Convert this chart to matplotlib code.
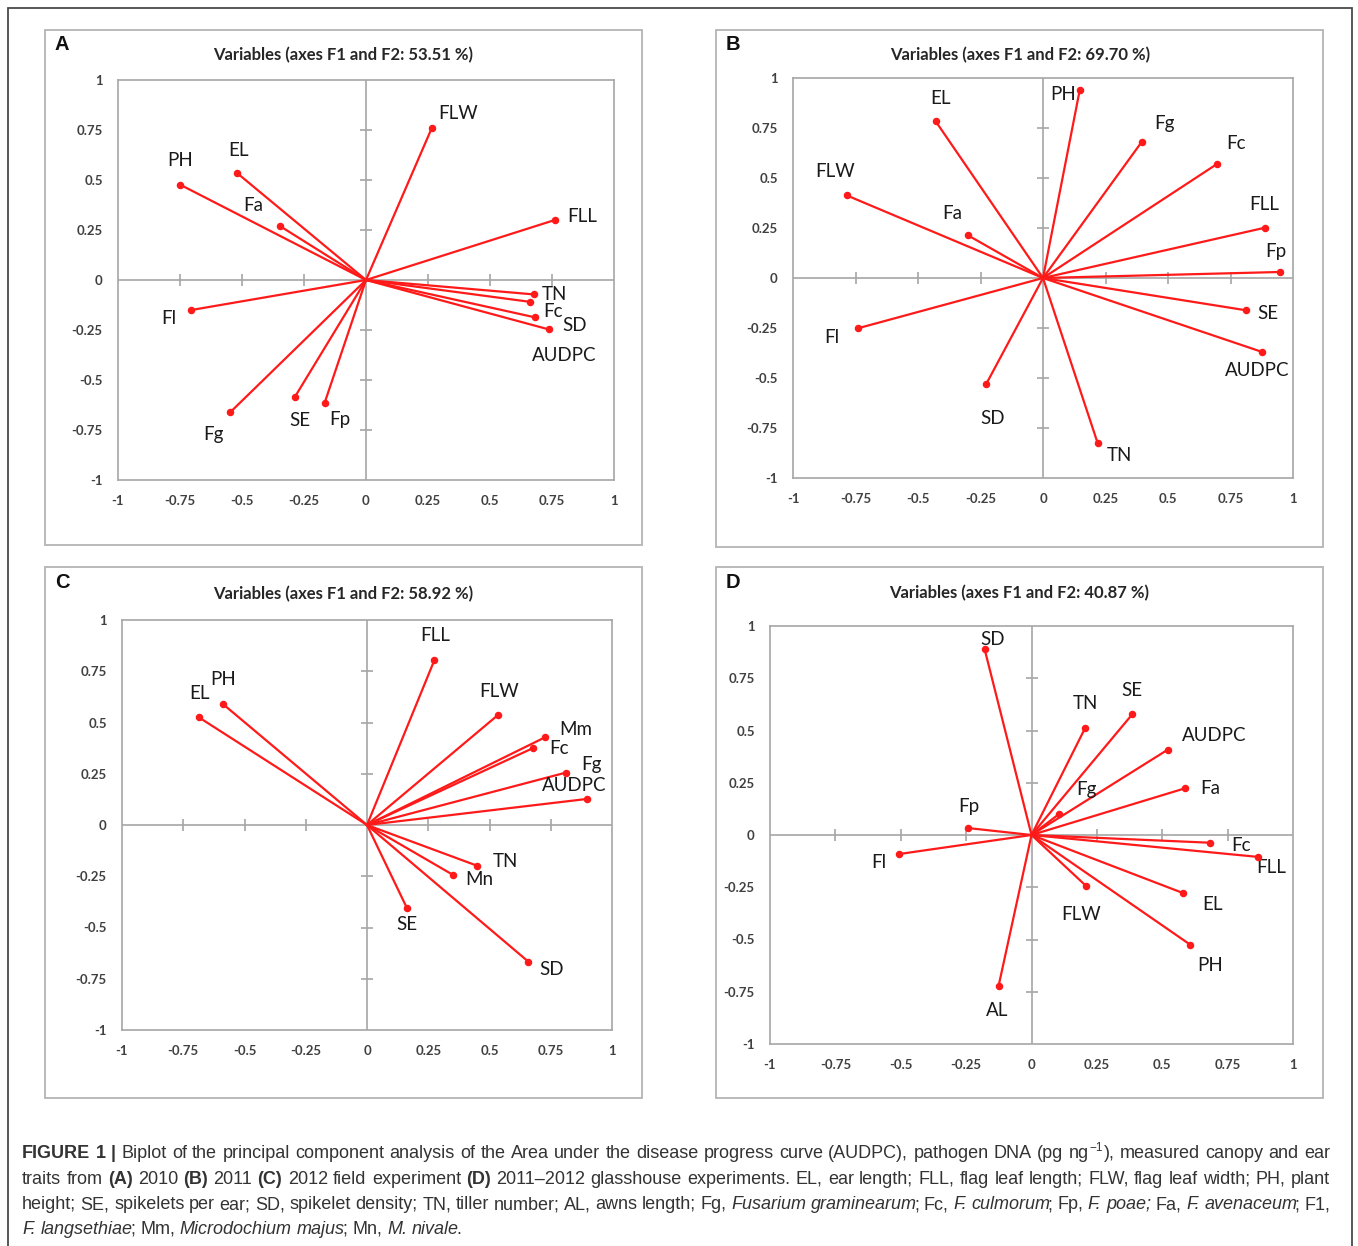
import matplotlib
matplotlib.use("Agg")
import matplotlib.pyplot as plt
from matplotlib.patches import Rectangle

W, H = 1358, 1246

# ---- data (F1, F2 loadings) ----
a_names = ["PH", "EL", "Fa", "FLW", "FLL", "TN", "Fc", "SD", "AUDPC", "Fl", "Fg", "SE", "Fp"]
a_f1 = [-0.75, -0.52, -0.346, 0.265, 0.764, 0.676, 0.660, 0.682, 0.737, -0.704, -0.548, -0.288, -0.167]
a_f2 = [0.477, 0.535, 0.269, 0.759, 0.301, -0.072, -0.109, -0.187, -0.247, -0.150, -0.662, -0.587, -0.615]

b_names = ["PH", "EL", "Fg", "Fc", "FLW", "Fa", "FLL", "Fp", "SE", "AUDPC", "Fl", "SD", "TN"]
b_f1 = [0.147, -0.429, 0.394, 0.696, -0.785, -0.301, 0.886, 0.946, 0.810, 0.877, -0.739, -0.228, 0.218]
b_f2 = [0.940, 0.783, 0.679, 0.570, 0.413, 0.214, 0.251, 0.030, -0.161, -0.370, -0.251, -0.532, -0.823]

c_names = ["EL", "PH", "FLL", "FLW", "Mm", "Fc", "Fg", "AUDPC", "TN", "Mn", "SE", "SD"]
c_f1 = [-0.686, -0.586, 0.275, 0.533, 0.727, 0.679, 0.813, 0.897, 0.448, 0.349, 0.163, 0.659]
c_f2 = [0.525, 0.588, 0.804, 0.535, 0.428, 0.376, 0.256, 0.127, -0.198, -0.242, -0.405, -0.667]

d_names = ["SD", "TN", "SE", "AUDPC", "Fa", "Fg", "Fp", "Fl", "Fc", "FLL", "FLW", "EL", "PH", "AL"]
d_f1 = [-0.179, 0.206, 0.385, 0.522, 0.586, 0.106, -0.241, -0.506, 0.683, 0.868, 0.209, 0.580, 0.606, -0.126]
d_f2 = [0.888, 0.514, 0.577, 0.409, 0.223, 0.101, 0.033, -0.091, -0.037, -0.105, -0.244, -0.278, -0.524, -0.723]

titles = ["Variables (axes F1 and F2: 53.51 %)", "Variables (axes F1 and F2: 69.70 %)",
          "Variables (axes F1 and F2: 58.92 %)", "Variables (axes F1 and F2: 40.87 %)"]
letters = ["A", "B", "C", "D"]

tick_vals = [-1, -0.75, -0.5, -0.25, 0, 0.25, 0.5, 0.75, 1]
tick_labels = ["-1", "-0.75", "-0.5", "-0.25", "0", "0.25", "0.5", "0.75", "1"]

# label offsets (pixels, y up) - layout only
a_off = [(0, 24), (1, 23), (-27, 21), (26, 15), (27, 3), (21, 0), (23, -10), (39, -8),
         (15, -26), (-23, -9), (-17, -22), (5, -23), (15, -17)]
b_off = [(-17, -5), (5, 23), (23, 19), (19, 20), (-12, 24), (-16, 22), (0, 23), (-4, 20),
         (22, -3), (-5, -19), (-26, -9), (7, -34), (22, -13)]
c_off = [(1, 24), (0, 25), (1, 25), (1, 24), (31, 8), (26, -1), (25, 8), (-13, 13),
         (29, 4), (27, -5), (0, -16), (23, -8)]
d_off = [(8, 10), (0, 24), (0, 24), (46, 14), (26, 0), (27, 24), (0, 22), (-20, -8),
         (31, -3), (13, -11), (-5, -29), (29, -11), (20, -21), (-1, -24)]

plt.rcParams["font.family"] = ["Lato", "DejaVu Sans"]

fig = plt.figure(figsize=(W / 100, H / 100), dpi=100)


def frac(x0, y0, x1, y1):
    return [x0 / W, 1 - y1 / H, (x1 - x0) / W, (y1 - y0) / H]


def box(x0, y0, x1, y1, color, lw):
    fig.add_artist(Rectangle((x0 / W, 1 - y1 / H), (x1 - x0) / W, (y1 - y0) / H,
                             transform=fig.transFigure, fill=False,
                             edgecolor=color, linewidth=lw))


# outer frame
box(8, 8, 1352, 1252, "#4a4a4a", 1.3)

panels = [
    (a_names, a_f1, a_f2, a_off, (45, 30, 642, 545), (118, 80, 614, 480), (343, 55)),
    (b_names, b_f1, b_f2, b_off, (716, 30, 1323, 547), (793, 78, 1293, 478), (1020, 55)),
    (c_names, c_f1, c_f2, c_off, (45, 567, 642, 1098), (122, 620, 612, 1030), (343, 594)),
    (d_names, d_f1, d_f2, d_off, (716, 567, 1323, 1098), (770, 626, 1293, 1044), (1019, 593)),
]

grey = "#a6a6a6"
inner = [t for t in tick_vals if t not in (-1, 0, 1)]

for i, (names, f1, f2, offs, frame, area, tpos) in enumerate(panels):
    box(*frame, "#b4b4b4", 1.3)
    fig.text((frame[0] + 17) / W, 1 - (frame[1] + 15) / H, letters[i],
             family="Liberation Sans", weight="bold", fontsize=14.5,
             ha="center", va="center", color="#111111")
    fig.text(tpos[0] / W, 1 - tpos[1] / H, titles[i], weight="bold", fontsize=12,
             ha="center", va="center", color="#262626")

    ax = fig.add_axes(frac(*area))
    ax.set_xlim(-1, 1)
    ax.set_ylim(-1, 1)
    for s in ax.spines.values():
        s.set_color(grey)
        s.set_linewidth(1.2)
    ax.set_xticks(tick_vals)
    ax.set_xticklabels(tick_labels)
    ax.set_yticks(tick_vals)
    ax.set_yticklabels(tick_labels)
    ax.tick_params(length=0, labelsize=9.5, labelcolor="#404040")
    ax.tick_params(axis="x", pad=11)
    ax.tick_params(axis="y", pad=11)
    for lab in ax.get_xticklabels() + ax.get_yticklabels():
        lab.set_fontweight("bold")

    ax.axhline(0, color=grey, lw=1.2, zorder=1)
    ax.axvline(0, color=grey, lw=1.2, zorder=1)
    ax.plot(inner, [0] * len(inner), ls="none", marker="|", ms=8, mew=1.2, color=grey, zorder=1)
    ax.plot([0] * len(inner), inner, ls="none", marker="_", ms=8, mew=1.2, color=grey, zorder=1)

    for name, x, y, (dx, dy) in zip(names, f1, f2, offs):
        ax.plot([0, x], [0, y], color="#ff1a1a", lw=1.6, zorder=3)
        ax.plot(x, y, "o", color="#ff1a1a", ms=4.4, zorder=4)
        ax.annotate(name, (x, y), xytext=(dx, dy), textcoords="offset pixels",
                    ha="center", va="center", fontsize=13.5, color="#1a1a1a")

# ---- caption with mixed styles ----
cap_lines = [
    [("FIGURE 1 |", "b", False),
     ("Biplot of the principal component analysis of the Area under the disease progress "
      "curve (AUDPC), pathogen DNA (pg ng", "n", False),
     ("\u22121", "sup", True),
     ("), measured canopy and ear", "n", True)],
    [("traits from", "n", False), ("(A)", "b", False), ("2010", "n", False), ("(B)", "b", False),
     ("2011", "n", False), ("(C)", "b", False), ("2012 field experiment", "n", False),
     ("(D)", "b", False),
     ("2011\u20132012 glasshouse experiments. EL, ear length; FLL, flag leaf length; FLW, "
      "flag leaf width; PH, plant", "n", False)],
    [("height; SE, spikelets per ear; SD, spikelet density; TN, tiller number; AL, awns "
      "length; Fg,", "n", False),
     ("Fusarium graminearum", "i", False), (";", "n", True), ("Fc,", "n", False),
     ("F. culmorum", "i", False), (";", "n", True), ("Fp,", "n", False),
     ("F. poae;", "i", False), ("Fa,", "n", False), ("F.  avenaceum", "i", False),
     (";", "n", True), ("F1,", "n", False)],
    [("F. langsethiae", "i", False), (";", "n", True), ("Mm,", "n", False),
     ("Microdochium majus", "i", False), (";", "n", True), ("Mn,", "n", False),
     ("M. nivale", "i", False), (".", "n", True)],
]
cap_base = [1158, 1184, 1209, 1234]
cap_left, cap_right = 22, 1330
cap_size = 13
renderer = fig.canvas.get_renderer()

for li, segs in enumerate(cap_lines):
    words = []
    for text, style, glue in segs:
        parts = text.split()
        for k, w in enumerate(parts):
            words.append((w, style, glue if k == 0 else False))
    objs = []
    prev_style = None
    for w, style, glue in words:
        kw = dict(family="Liberation Sans", color="#333333", va="baseline", ha="left",
                  fontsize=cap_size)
        if style == "b":
            kw["weight"] = "bold"
        elif style == "i":
            kw["style"] = "italic"
        elif style == "sup":
            kw["fontsize"] = 8.5
        t = fig.text(0, 0, w, **kw)
        wd = t.get_window_extent(renderer).width
        # tighten glued pieces (italic extents carry extra overhang)
        adj = 0.0
        if glue and prev_style is not None:
            adj = -2.5 if prev_style == "i" else 0.5
        objs.append((t, wd, style, glue, adj))
        prev_style = style
    total = sum(o[1] + o[4] for o in objs)
    n_gaps = sum(1 for o in objs[1:] if not o[3])
    if li < 3:
        gap = (cap_right - cap_left - total) / n_gaps
    else:
        gap = 5.0
    x = cap_left
    for k, (t, wd, style, glue, adj) in enumerate(objs):
        if k > 0 and not glue:
            x += gap
        x += adj
        yb = cap_base[li] - (7 if style == "sup" else 0)
        t.set_position((x / W, 1 - yb / H))
        x += wd

fig.savefig("out.png", dpi=100)
